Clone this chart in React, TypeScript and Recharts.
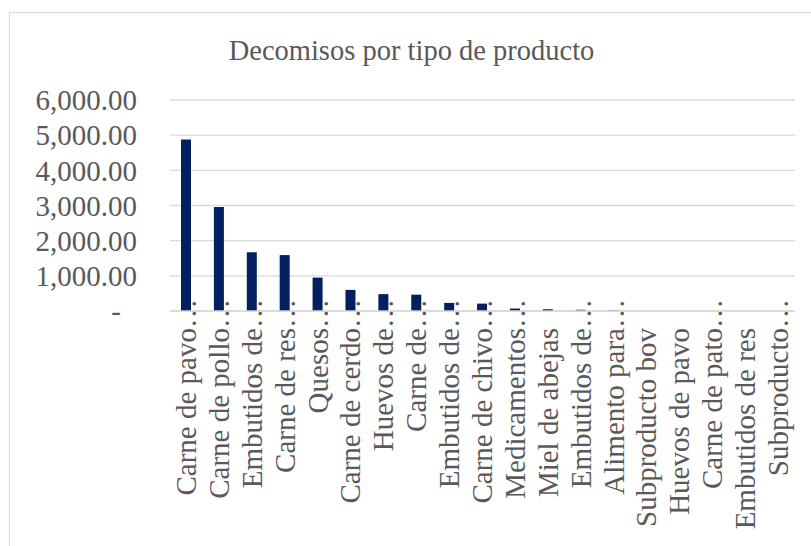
import { Bar, BarChart, CartesianGrid, XAxis, YAxis } from "recharts";

const categories = [
  "Carne de pavo…",
  "Carne de pollo…",
  "Embutidos de…",
  "Carne de res…",
  "Quesos…",
  "Carne de cerdo…",
  "Huevos de…",
  "Carne de…",
  "Embutidos de…",
  "Carne de chivo…",
  "Medicamentos…",
  "Miel de abejas",
  "Embutidos de…",
  "Alimento para…",
  "Subproducto bov",
  "Huevos de pavo",
  "Carne de pato…",
  "Embutidos de res",
  "Subproducto…",
];

const decomisos = [
  4880, 2960, 1670, 1590, 950, 600, 480, 465, 230, 210, 70, 50, 35, 20, 0, 0, 0, 0, 0,
];

const yTicks = [0, 1000, 2000, 3000, 4000, 5000, 6000];

const data = categories.map((name, i) => ({ idx: i, name, value: decomisos[i] }));

const FONT = '"Liberation Serif", "Times New Roman", serif';
const TEXT = "#595959";

const fmt = (v: number) =>
  v === 0
    ? "-"
    : v.toLocaleString("en-US", { minimumFractionDigits: 2, maximumFractionDigits: 2 });

function YTick({ x, y, payload }: any) {
  const v = Number(payload.value);
  return (
    <text
      x={v === 0 ? x - 16 : x}
      y={y}
      dy="0.355em"
      textAnchor="end"
      fontFamily={FONT}
      fontSize={29}
      fill={TEXT}
    >
      {fmt(v)}
    </text>
  );
}

function XTick({ x, y, payload }: any) {
  const label: string = categories[payload.value] ?? "";
  const cut = label.endsWith("…");
  const base = cut ? label.slice(0, -1) : label;
  const ty = y + 17;
  return (
    <g>
      <text
        x={x}
        y={ty}
        dy={9.5}
        transform={`rotate(-90, ${x}, ${ty})`}
        textAnchor="end"
        fontFamily={FONT}
        fontSize={29}
        fill={TEXT}
      >
        {base}
      </text>
      {cut && (
        <text
          x={x}
          y={ty}
          dy={9.5}
          transform={`rotate(-90, ${x}, ${ty})`}
          textAnchor="start"
          fontFamily={FONT}
          fontSize={29}
          fill={TEXT}
        >
          …
        </text>
      )}
    </g>
  );
}

export default function App() {
  return (
    <div
      style={{
        position: "absolute",
        left: 0,
        top: 0,
        width: 811,
        height: 546,
        overflow: "hidden",
        background: "#fff",
      }}
    >
      <div
        style={{
          position: "absolute",
          left: 9,
          top: 12,
          width: 900,
          height: 700,
          border: "1.5px solid #d9d9d9",
        }}
      />
      <div
        style={{
          position: "absolute",
          left: 0,
          top: 37,
          width: 823,
          textAlign: "center",
          fontFamily: FONT,
          fontSize: 28.5,
          lineHeight: "28.5px",
          color: TEXT,
        }}
      >
        Decomisos por tipo de producto
      </div>
      <div style={{ position: "absolute", left: 0, top: 0 }}>
        <BarChart
          width={811}
          height={546}
          data={data}
          margin={{ top: 100, right: 16, bottom: 205, left: 0 }}
        >
          <CartesianGrid vertical={false} stroke="#d9d9d9" strokeWidth={1.3} />
          <XAxis
            dataKey="idx"
            type="category"
            height={30}
            tickLine={false}
            tickSize={0}
            tickMargin={0}
            interval={0}
            axisLine={{ stroke: "#d9d9d9", strokeWidth: 1.3 }}
            tick={<XTick />}
          />
          <YAxis
            width={170}
            domain={[0, 6000]}
            ticks={yTicks}
            axisLine={false}
            tickLine={false}
            tickSize={0}
            tickMargin={33}
            interval={0}
            tick={<YTick />}
          />
          <Bar dataKey="value" fill="#002060" barSize={10} isAnimationActive={false} />
        </BarChart>
      </div>
    </div>
  );
}
